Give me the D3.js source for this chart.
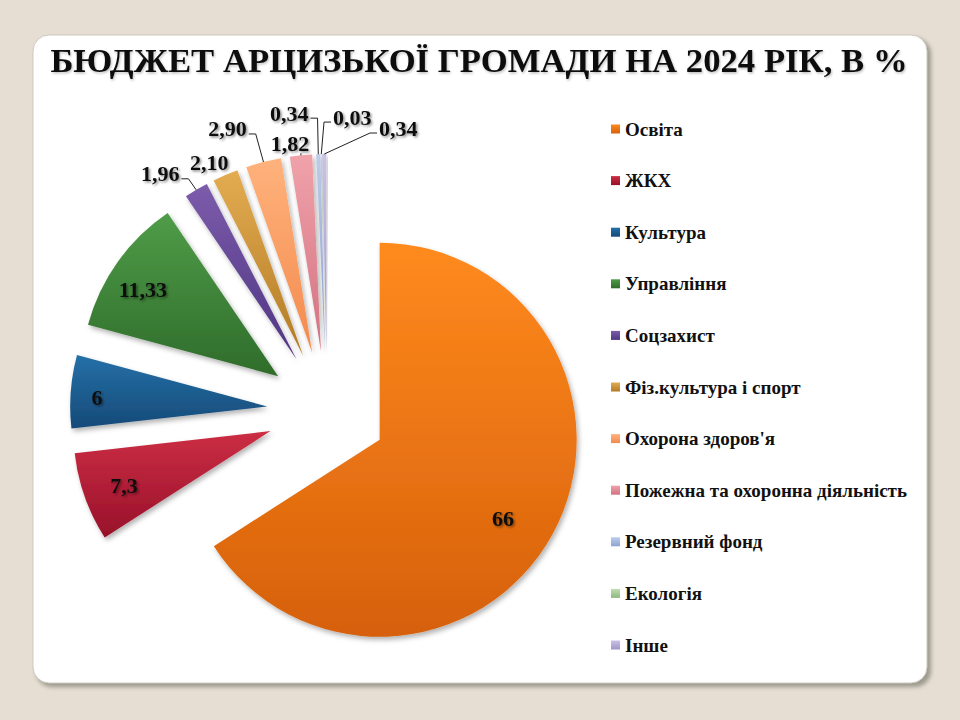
<!DOCTYPE html>
<html>
<head>
<meta charset="utf-8">
<script src="https://cdn.jsdelivr.net/npm/d3@7"></script>
<style>
  html, body { margin: 0; padding: 0; background: #e6ded3; }
  svg { display: block; }
</style>
</head>
<body>
<svg id="chart"></svg>
<script>
// дані
const categories = ["Освіта", "ЖКХ", "Культура", "Управління", "Соцзахист",
  "Фіз.культура і спорт", "Охорона здоров'я", "Пожежна та охоронна діяльність",
  "Резервний фонд", "Екологія", "Інше"];
const values = [66, 7.3, 6, 11.33, 1.96, 2.10, 2.90, 1.82, 0.34, 0.03, 0.34];
const valueLabels = ["66", "7,3", "6", "11,33", "1,96", "2,10", "2,90", "1,82", "0,34", "0,03", "0,34"];
const colorsTop = ["#ff8a1e", "#cc2e44", "#2470a8", "#4f9c48", "#7c5cab", "#e4ac52",
  "#ffb27c", "#f0a2aa", "#bccbea", "#c2ddb2", "#cbc3e3"];
const colorsBottom = ["#d6600a", "#98102a", "#164a78", "#2f6c2b", "#4e3482", "#b27a22",
  "#f38a4e", "#d27282", "#8ea4d2", "#90b880", "#9f96c8"];

const width = 960, height = 720;
const cx = 327, cy = 411, radius = 197, explode = 60;
const serif = '"Times New Roman", Tinos, "Liberation Serif", serif';

const svg = d3.select("#chart").attr("width", width).attr("height", height);
const defs = svg.append("defs");

// тіні
const sh = defs.append("filter").attr("id", "sliceShadow")
  .attr("x", "-20%").attr("y", "-20%").attr("width", "140%").attr("height", "140%");
sh.append("feDropShadow").attr("dx", 2).attr("dy", 3).attr("stdDeviation", 2.5)
  .attr("flood-color", "#000").attr("flood-opacity", 0.3);

const tsh = defs.append("filter").attr("id", "textShadow")
  .attr("x", "-20%").attr("y", "-30%").attr("width", "140%").attr("height", "160%");
tsh.append("feDropShadow").attr("dx", 1.5).attr("dy", 1.5).attr("stdDeviation", 1.2)
  .attr("flood-color", "#000").attr("flood-opacity", 0.45);

const ttsh = defs.append("filter").attr("id", "titleShadow")
  .attr("x", "-5%").attr("y", "-30%").attr("width", "110%").attr("height", "160%");
ttsh.append("feDropShadow").attr("dx", 1).attr("dy", 1.5).attr("stdDeviation", 1)
  .attr("flood-color", "#000").attr("flood-opacity", 0.25);

const psh = defs.append("filter").attr("id", "panelShadow")
  .attr("x", "-5%").attr("y", "-5%").attr("width", "110%").attr("height", "110%");
psh.append("feGaussianBlur").attr("stdDeviation", 2);

categories.forEach((c, i) => {
  const g = defs.append("linearGradient").attr("id", "grad" + i)
    .attr("x1", 0).attr("y1", 0).attr("x2", 0).attr("y2", 1);
  g.append("stop").attr("offset", "0%").attr("stop-color", colorsTop[i]);
  g.append("stop").attr("offset", "100%").attr("stop-color", colorsBottom[i]);
});

// панель
svg.append("rect")
  .attr("x", 36).attr("y", 38).attr("width", 895).attr("height", 649)
  .attr("rx", 16).attr("fill", "#9d9a8e").attr("filter", "url(#panelShadow)");
svg.append("rect")
  .attr("x", 33).attr("y", 35).attr("width", 894).attr("height", 648)
  .attr("rx", 16).attr("fill", "#ffffff")
  .attr("stroke", "#cfcabe").attr("stroke-width", 1);

// заголовок
svg.append("text")
  .attr("x", 479).attr("y", 72)
  .attr("text-anchor", "middle")
  .attr("font-family", serif)
  .attr("font-weight", "bold")
  .attr("font-size", 34.7)
  .attr("fill", "#111")
  .attr("filter", "url(#titleShadow)")
  .text("БЮДЖЕТ АРЦИЗЬКОЇ ГРОМАДИ НА 2024 РІК, В %");

// пиріг
const data = categories.map((c, i) => ({ name: c, value: values[i], label: valueLabels[i], i: i }));
const pie = d3.pie().sort(null).value(d => d.value);
const arcs = pie(data);
const arc = d3.arc().innerRadius(0).outerRadius(radius);

const dir = a => [Math.sin(a), -Math.cos(a)];
const mid = d => (d.startAngle + d.endAngle) / 2;

const g = svg.append("g").attr("transform", `translate(${cx},${cy})`);

g.selectAll(".slice")
  .data(arcs)
  .enter()
  .append("path")
  .attr("class", "slice")
  .attr("transform", d => {
    const [ux, uy] = dir(mid(d));
    return `translate(${ux * explode},${uy * explode})`;
  })
  .attr("d", arc)
  .attr("fill", d => `url(#grad${d.data.i})`)
  .attr("filter", "url(#sliceShadow)");

// підписи всередині великих секторів (невеликий зсув від розрахункової точки)
const inLayout = {
  "Освіта": { dx: -15, dy: 4 },
  "ЖКХ": { dx: 2, dy: 2 },
  "Культура": { dx: -13, dy: 3 },
  "Управління": { dx: -7, dy: 5 }
};
const inside = arcs.filter(d => d.data.value > 5);
g.selectAll(".inLabel")
  .data(inside)
  .enter()
  .append("text")
  .attr("class", "inLabel")
  .attr("x", d => dir(mid(d))[0] * (explode + radius * 0.8) + inLayout[d.data.name].dx)
  .attr("y", d => dir(mid(d))[1] * (explode + radius * 0.8) + 7 + inLayout[d.data.name].dy)
  .attr("text-anchor", "middle")
  .attr("font-family", serif)
  .attr("font-weight", "bold")
  .attr("font-size", 22)
  .attr("fill", "#111")
  .attr("filter", "url(#textShadow)")
  .text(d => d.data.label);

// зовнішні підписи малих секторів (зсув від точки на дузі, тип виноски)
const outLayout = {
  "Соцзахист": { dx: -36, dy: -16, leader: "h" },
  "Фіз.культура і спорт": { dx: -16, dy: -12, leader: "none" },
  "Охорона здоров'я": { dx: -36, dy: -33, leader: "h" },
  "Пожежна та охоронна діяльність": { dx: -11, dy: -12, leader: "v" },
  "Резервний фонд": { dx: -29, dy: -41, leader: "h" },
  "Екологія": { dx: 31, dy: -37, leader: "h" },
  "Інше": { dx: 74, dy: -26, leader: "h" }
};

const outside = arcs.filter(d => d.data.value <= 5);
outside.forEach(d => {
  const [ux, uy] = dir(mid(d));
  const ax = ux * (explode + radius), ay = uy * (explode + radius);
  const lay = outLayout[d.data.name];
  const lx = ax + lay.dx, ly = ay + lay.dy;

  const t = g.append("text")
    .attr("x", lx).attr("y", ly + 7.5)
    .attr("text-anchor", "middle")
    .attr("font-family", serif)
    .attr("font-weight", "bold")
    .attr("font-size", 22)
    .attr("fill", "#111")
    .attr("filter", "url(#textShadow)")
    .text(d.data.label);

  const half = t.node().getComputedTextLength() / 2;
  if (lay.leader === "h") {
    const side = lay.dx < 0 ? 1 : -1;
    const ex = lx + side * (half + 2);
    const kx = lx + side * (half + 9);
    const ky = ly + 5;
    g.append("path")
      .attr("d", `M${ex},${ky}L${kx},${ky}L${ax},${ay}`)
      .attr("fill", "none").attr("stroke", "#222").attr("stroke-width", 1);
  } else if (lay.leader === "v") {
    g.append("path")
      .attr("d", `M${ax},${ly + 10}L${ax},${ay}`)
      .attr("fill", "none").attr("stroke", "#222").attr("stroke-width", 1);
  }
});

// легенда
const legendY = d3.scalePoint().domain(categories).range([129, 645]);
const legend = svg.append("g");
const items = legend.selectAll(".item")
  .data(data)
  .enter()
  .append("g")
  .attr("class", "item")
  .attr("transform", d => `translate(611,${legendY(d.name)})`);

items.append("rect")
  .attr("x", 0).attr("y", -4.5)
  .attr("width", 9).attr("height", 9)
  .attr("fill", d => `url(#grad${d.i})`);

items.append("text")
  .attr("x", 14).attr("y", 6.5)
  .attr("font-family", serif)
  .attr("font-weight", "bold")
  .attr("font-size", 19)
  .attr("fill", "#111")
  .text(d => d.name);
</script>
</body>
</html>
